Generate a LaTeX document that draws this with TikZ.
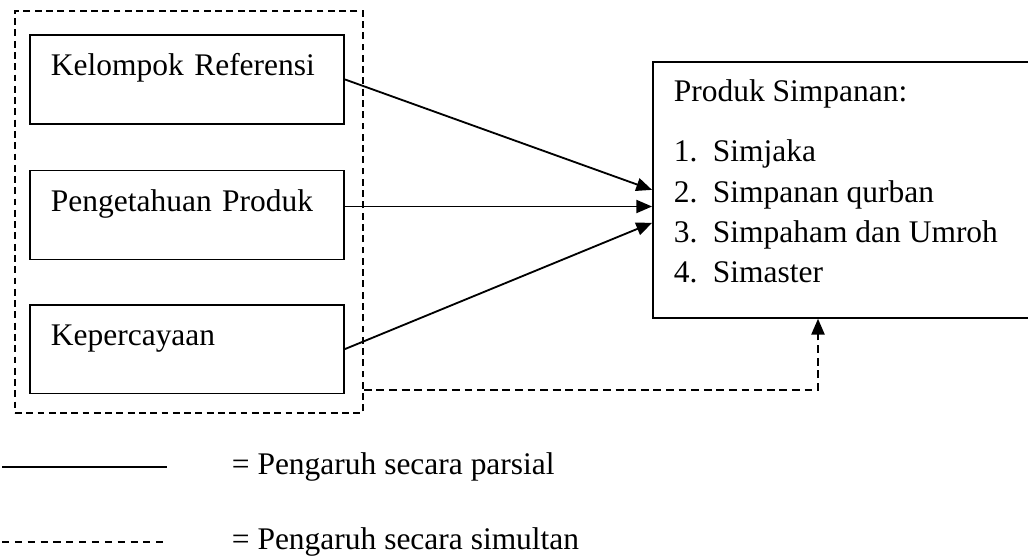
\documentclass[tikz,border=0pt,12pt]{standalone}
\usepackage{fontspec}
\setmainfont{Liberation Serif}
\usetikzlibrary{arrows.meta,positioning,calc}
\tikzset{
  every picture/.style={line width=0.7pt},
  kotak/.style={draw, rectangle, inner xsep=0.281cm, inner ysep=0pt,
                text width=3.646cm, align=left, text height=0.549cm, text depth=0.643cm},
  grupbox/.style={draw, rectangle, dash pattern=on 2.6pt off 1.7pt, anchor=north west,
                  inner sep=0pt},
  hasilbox/.style={draw, rectangle, anchor=north west, inner sep=0pt},
  teks/.style={inner sep=0pt, anchor=base west},
  parsial/.style={-{Triangle[length=6pt,width=5pt]}},
  simultan/.style={dash pattern=on 3pt off 1.8pt, -{Triangle[length=6pt,width=5pt]}},
  legsolid/.style={line width=0.6pt},
  legdash/.style={line width=0.6pt, dash pattern=on 2.7pt off 2.2pt},
}

\begin{document}
\begin{tikzpicture}
  \useasboundingbox (0,0) rectangle (13.775,-7.464);
  % variabel bebas
  \node[grupbox, minimum width=4.663cm, minimum height=5.387cm] (grup) at (0.188,-0.134) {};
  \node[kotak, anchor=north west] (kelompok) at (0.389,-0.456) {Kelompok Referensi};
  \node[kotak, below=0.6cm of kelompok] (pengetahuan) {Pengetahuan Produk};
  \node[kotak, below=0.58cm of pengetahuan] (kepercayaan) {Kepercayaan};
  % variabel terikat
  \node[hasilbox, minimum width=5.065cm, minimum height=3.430cm] (hasil) at (8.737,-0.817) {};
  \node[teks] (judul) at ($(hasil.north west)+(0.281,-0.549)$) {Produk Simpanan:};
  \foreach \i/\nama in {1/Simjaka, 2/Simpanan qurban, 3/Simpaham dan Umroh, 4/Simaster}
    \node[teks] (item\i) at ($(judul.base west)+(0,{-0.804-0.54*(\i-1)})$)
          {\makebox[0.523cm][l]{\i.}\nama};
  % pengaruh
  \draw[parsial] (kelompok.east) -- (hasil.west);
  \draw[parsial] ([yshift=0.114cm]pengetahuan.east) -- ([yshift=0.114cm]pengetahuan.east -| hasil.west);
  \draw[parsial] (kepercayaan.east) -- ([yshift=-0.442cm]hasil.west);
  \draw[simultan] ([yshift=0.322cm]grup.south east) -| ([xshift=2.224cm]hasil.south west);
  % keterangan
  \coordinate (lp1) at (0.027,-6.258);
  \coordinate (lp2) at (2.238,-6.258);
  \coordinate (ls1) at (0.027,-7.263);
  \coordinate (ls2) at (2.198,-7.263);
  \draw[legsolid] (lp1) -- (lp2);
  \draw[legdash] (ls1) -- (ls2);
  \node[teks] (kparsial) at (3.095,-6.352) {= Pengaruh secara parsial};
  \node[teks] (ksimultan) at (3.095,-7.357) {= Pengaruh secara simultan};
\end{tikzpicture}
\end{document}
